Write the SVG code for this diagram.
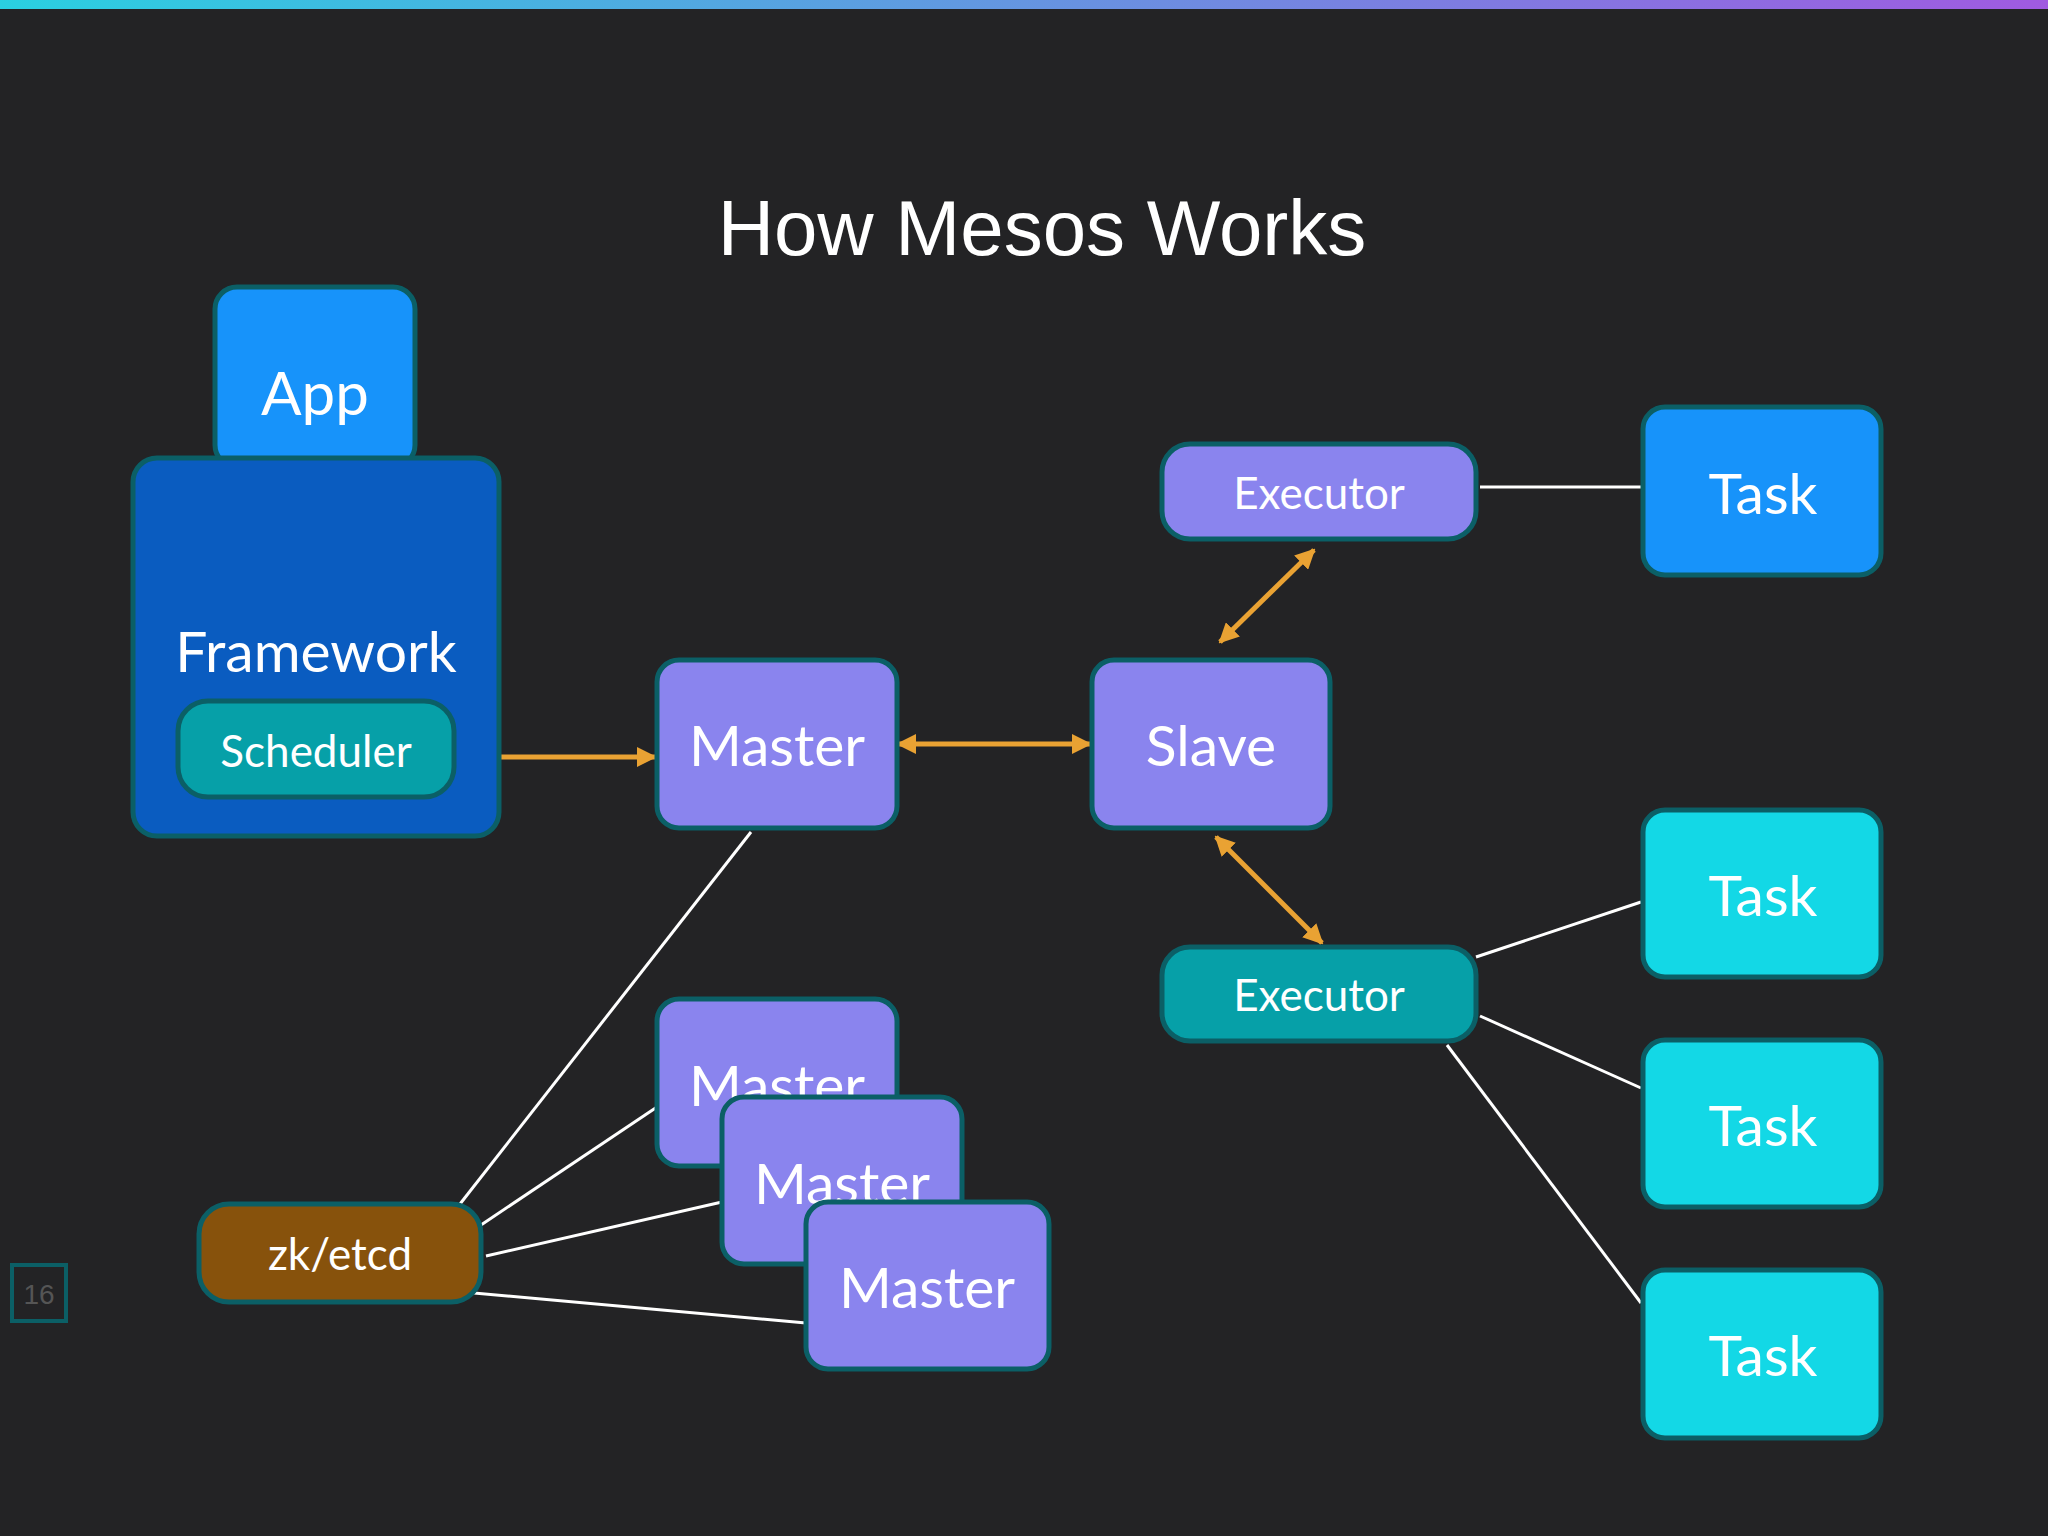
<svg xmlns="http://www.w3.org/2000/svg" width="2048" height="1536" viewBox="0 0 2048 1536">
<defs>
<linearGradient id="bar" x1="0" x2="1" y1="0" y2="0"><stop offset="0" stop-color="#2ad0e0"/><stop offset="1" stop-color="#a05ae0"/></linearGradient>
<marker id="ah" viewBox="0 0 10 10" refX="9" refY="5" markerWidth="4" markerHeight="4" orient="auto-start-reverse"><path d="M0,0 L10,5 L0,10 z" fill="#e9a233"/></marker>
</defs>
<style>
.n{stroke:#0b5f66;stroke-width:5}
.t{font-family:Lato,"Open Sans",sans-serif;fill:#fff;text-anchor:middle;dominant-baseline:central}
.w{stroke:#fff;stroke-width:3;fill:none}
.o{stroke:#e9a233;stroke-width:5;fill:none;marker-start:url(#ah);marker-end:url(#ah)}
</style>
<rect width="2048" height="1536" fill="#232325"/>
<rect width="2048" height="9" fill="url(#bar)"/>
<text x="1042" y="228" class="t" font-family="Liberation Sans, sans-serif" style="font-family:'Liberation Sans',sans-serif" font-size="78">How Mesos Works</text>
<g id="connectors">
<line class="w" x1="1480" y1="487" x2="1641" y2="487"/>
<line class="w" x1="1476" y1="957" x2="1641" y2="902"/>
<line class="w" x1="1480" y1="1016" x2="1641" y2="1088"/>
<line class="w" x1="1447" y1="1045" x2="1641" y2="1303"/>
<line class="w" x1="751" y1="832" x2="460" y2="1204"/>
<line class="w" x1="481" y1="1225" x2="657" y2="1107"/>
<line class="w" x1="486" y1="1256" x2="722" y2="1202"/>
<line class="w" x1="474" y1="1293" x2="806" y2="1323"/>
<line class="o" x1="460" y1="757" x2="655" y2="757"/>
<line class="o" x1="898" y1="744" x2="1090" y2="744"/>
<line class="o" x1="1220" y1="642" x2="1314" y2="550"/>
<line class="o" x1="1216" y1="837" x2="1322" y2="943"/>
</g>
<g id="app"><rect class="n" x="215" y="287" width="200" height="180" rx="22" fill="#1793fa"/><text class="t" x="315" y="392" font-size="60">App</text></g>
<g id="framework"><rect class="n" x="133" y="458" width="366" height="378" rx="24" fill="#0a5cc0"/><text class="t" x="316" y="650" font-size="57">Framework</text></g>
<g id="scheduler"><rect class="n" x="178" y="701" width="276" height="96" rx="30" fill="#06a0a8"/><text class="t" x="316" y="750" font-size="44">Scheduler</text></g>
<g id="master"><rect class="n" x="657" y="660" width="240" height="168" rx="22" fill="#8a84ee"/><text class="t" x="777" y="744" font-size="57">Master</text></g>
<g id="slave"><rect class="n" x="1092" y="660" width="238" height="168" rx="22" fill="#8a84ee"/><text class="t" x="1211" y="744" font-size="57">Slave</text></g>
<g id="executor1"><rect class="n" x="1162" y="444" width="314" height="95" rx="28" fill="#8a84ee"/><text class="t" x="1319" y="492" font-size="44">Executor</text></g>
<g id="task1"><rect class="n" x="1643" y="407" width="238" height="168" rx="22" fill="#1793fa"/><text class="t" x="1763" y="492" font-size="57">Task</text></g>
<g id="executor2"><rect class="n" x="1162" y="947" width="314" height="94" rx="28" fill="#06a0a8"/><text class="t" x="1319" y="994" font-size="44">Executor</text></g>
<g id="task2"><rect class="n" x="1643" y="810" width="238" height="167" rx="22" fill="#13d8e6"/><text class="t" x="1763" y="894" font-size="57">Task</text></g>
<g id="task3"><rect class="n" x="1643" y="1040" width="238" height="167" rx="22" fill="#13d8e6"/><text class="t" x="1763" y="1124" font-size="57">Task</text></g>
<g id="task4"><rect class="n" x="1643" y="1270" width="238" height="168" rx="22" fill="#13d8e6"/><text class="t" x="1763" y="1354" font-size="57">Task</text></g>
<g id="master2"><rect class="n" x="657" y="999" width="240" height="167" rx="22" fill="#8a84ee"/><text class="t" x="777" y="1084" font-size="57">Master</text></g>
<g id="master3"><rect class="n" x="722" y="1097" width="240" height="167" rx="22" fill="#8a84ee"/><text class="t" x="842" y="1182" font-size="57">Master</text></g>
<g id="master4"><rect class="n" x="806" y="1202" width="243" height="167" rx="22" fill="#8a84ee"/><text class="t" x="927" y="1286" font-size="57">Master</text></g>
<g id="zk"><rect class="n" x="199" y="1204" width="282" height="98" rx="30" fill="#87520c"/><text class="t" x="340" y="1253" font-size="44">zk/etcd</text></g>
<g id="page"><rect x="12" y="1265" width="54" height="56" fill="none" stroke="#0b5f66" stroke-width="4"/><text class="t" x="39" y="1294" font-size="28" style="fill:#555;font-family:'Liberation Sans',sans-serif">16</text></g>
</svg>
